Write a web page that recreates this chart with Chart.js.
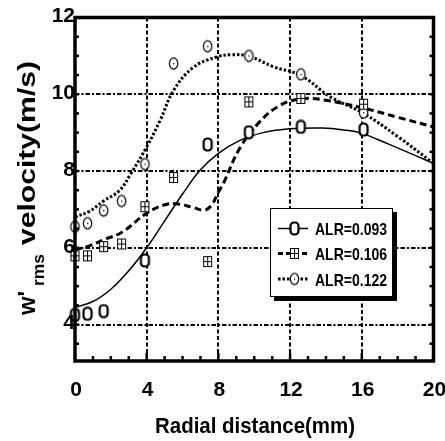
<!DOCTYPE html>
<html>
<head>
<meta charset="utf-8">
<script src="https://cdn.jsdelivr.net/npm/chart.js@4.4.1/dist/chart.umd.min.js"></script>
<style>
  body { margin: 0; background: #fff; }
</style>
</head>
<body>
<canvas id="myChart" width="445" height="441"></canvas>
<script>
// valores
const xPuntos093 = [0, 0.7, 1.6, 3.9, 7.4, 9.7, 12.6, 16.1];
const yPuntos093 = [4.25, 4.28, 4.35, 5.67, 8.69, 9.01, 9.15, 9.08];

const xPuntos106 = [0, 0.7, 1.6, 2.6, 3.9, 5.5, 7.4, 9.7, 12.6, 16.1];
const yPuntos106 = [5.79, 5.79, 6.03, 6.1, 7.07, 7.83, 5.64, 9.8, 9.89, 9.74];

const xPuntos122 = [0, 0.7, 1.6, 2.6, 3.9, 5.5, 7.4, 9.7, 12.6, 16.1];
const yPuntos122 = [6.55, 6.64, 6.97, 7.22, 8.18, 10.8, 11.25, 11.0, 10.52, 9.52];

// curvas de ajuste
const xCurva093 = [0, 1, 2, 3, 4, 5, 6, 7, 8, 9.2, 10.5, 12, 13.8, 15, 16, 17.5, 19, 20];
const yCurva093 = [4.45, 4.6, 4.92, 5.4, 6.0, 6.7, 7.4, 8.03, 8.46, 8.8, 9.0, 9.1, 9.12, 9.07, 8.98, 8.7, 8.4, 8.2];

const xCurva106 = [0, 0.8, 1.6, 2.6, 4, 5, 5.6, 6.6, 7.2, 7.6, 8.0, 8.3, 9.2, 10.3, 11.4, 12.6, 13.9, 16, 18, 20];
const yCurva106 = [5.95, 6.05, 6.21, 6.4, 6.9, 7.12, 7.15, 7.05, 6.98, 7.1, 7.45, 7.7, 8.6, 9.28, 9.7, 9.88, 9.85, 9.65, 9.4, 9.15];

const xCurva122 = [0, 0.8, 1.6, 2.5, 3.1, 4, 4.75, 5.5, 6.6, 7.9, 8.7, 9.7, 11.1, 12.6, 14.25, 16.1, 18, 20];
const yCurva122 = [6.8, 6.95, 7.22, 7.5, 7.92, 8.63, 9.32, 10.1, 10.7, 10.97, 11.03, 10.99, 10.71, 10.49, 9.93, 9.5, 8.9, 8.2];

const series = ['ALR=0.093', 'ALR=0.106', 'ALR=0.122'];
const xTicks = [0, 4, 8, 12, 16, 20];
const yTicks = [4, 6, 8, 10, 12];

const pares = (xs, ys) => xs.map((x, i) => ({ x: x, y: ys[i] }));

// marcadores dibujados a mano
function marcador(tipo) {
  const c = document.createElement('canvas');
  c.width = 13; c.height = 15;
  const g = c.getContext('2d');
  g.fillStyle = '#fff';
  g.strokeStyle = '#000';
  if (tipo == 'o') {
    g.lineWidth = 2.2;
    g.beginPath();
    g.roundRect(2.5, 1.5, 8, 12, 3.5);
    g.fill(); g.stroke();
  }
  if (tipo == 'cruz') {
    g.lineWidth = 1;
    g.fillRect(2, 2.5, 9, 10);
    g.strokeRect(2.5, 2.5, 8, 10);
    g.beginPath();
    g.moveTo(6.5, 2.5); g.lineTo(6.5, 12.5);
    g.moveTo(2.5, 7.5); g.lineTo(10.5, 7.5);
    g.stroke();
  }
  if (tipo == 'punto') {
    g.lineWidth = 1.2;
    g.beginPath();
    g.ellipse(6.5, 7.5, 4.2, 5.6, 0, 0, Math.PI * 2);
    g.fill(); g.stroke();
    g.fillStyle = '#000';
    g.fillRect(6, 7, 1.3, 1.3);
  }
  return c;
}
const marcas = [marcador('o'), marcador('cruz'), marcador('punto')];
const estilos = [
  { ancho: 1.5, dash: [] },
  { ancho: 3, dash: [7, 4] },
  { ancho: 3, dash: [2.5, 2] }
];

function textoAjustado(ctx, txt, x, y, w) {
  const m = ctx.measureText(txt).width;
  ctx.save();
  ctx.translate(x, y);
  ctx.scale(w / m, 1);
  ctx.fillText(txt, 0, 0);
  ctx.restore();
}

const marco = {
  id: 'marco',
  beforeDatasetsDraw(chart) {
    const ctx = chart.ctx, xs = chart.scales.x, ys = chart.scales.y, a = chart.chartArea;
    ctx.save();
    ctx.strokeStyle = '#000';
    ctx.lineWidth = 2;
    ctx.setLineDash([4, 2.5]);
    xTicks.slice(1, -1).forEach(v => {
      const px = Math.round(xs.getPixelForValue(v));
      ctx.beginPath(); ctx.moveTo(px, a.top); ctx.lineTo(px, a.bottom); ctx.stroke();
    });
    ctx.setLineDash([4.5, 2, 2, 2]);
    yTicks.slice(0, -1).forEach(v => {
      const py = Math.round(ys.getPixelForValue(v));
      ctx.beginPath(); ctx.moveTo(a.left, py); ctx.lineTo(a.right, py); ctx.stroke();
    });
    ctx.restore();
  },
  afterDatasetsDraw(chart) {
    const ctx = chart.ctx, xs = chart.scales.x, ys = chart.scales.y, a = chart.chartArea;
    ctx.save();
    ctx.strokeStyle = '#000';
    ctx.fillStyle = '#000';
    ctx.setLineDash([]);
    // ticks menores
    ctx.lineWidth = 2.5;
    for (let v = 1; v < 20; v++) {
      const px = xs.getPixelForValue(v);
      const largo = v % 4 == 0 ? 8 : 5;
      ctx.beginPath(); ctx.moveTo(px, a.bottom); ctx.lineTo(px, a.bottom - largo); ctx.stroke();
    }
    for (let v = 3.5; v < 12; v += 0.5) {
      const py = ys.getPixelForValue(v);
      ctx.beginPath(); ctx.moveTo(a.left, py); ctx.lineTo(a.left + 4, py); ctx.stroke();
      ctx.beginPath(); ctx.moveTo(a.right, py); ctx.lineTo(a.right - 4, py); ctx.stroke();
    }
    // marco grueso
    ctx.lineWidth = 3.5;
    ctx.strokeRect(a.left, a.top, a.right - a.left, a.bottom - a.top);

    // etiquetas
    ctx.font = 'bold 21px "Liberation Sans", Arial, sans-serif';
    ctx.textAlign = 'center';
    ctx.textBaseline = 'middle';
    xTicks.forEach(v => ctx.fillText(String(v), xs.getPixelForValue(v) + 1, 390));
    ctx.textAlign = 'right';
    yTicks.forEach(v => ctx.fillText(String(v), a.left, ys.getPixelForValue(v) - 1));

    // titulo eje x
    ctx.textAlign = 'left';
    ctx.textBaseline = 'alphabetic';
    ctx.font = 'bold 22px "Liberation Sans", Arial, sans-serif';
    textoAjustado(ctx, 'Radial distance(mm)', 155, 433, 200);

    // titulo eje y
    ctx.save();
    ctx.translate(35, 315);
    ctx.rotate(-Math.PI / 2);
    ctx.font = 'bold 24px "Liberation Sans", Arial, sans-serif';
    textoAjustado(ctx, "w'", 0, 0, 24);
    ctx.font = 'bold 17px "Liberation Sans", Arial, sans-serif';
    textoAjustado(ctx, 'rms', 29, 9, 32);
    ctx.font = 'bold 24px "Liberation Sans", Arial, sans-serif';
    textoAjustado(ctx, 'velocity(m/s)', 70, 0, 184);
    ctx.restore();

    // leyenda
    ctx.fillRect(274, 212, 123, 89);
    ctx.fillStyle = '#fff';
    ctx.fillRect(270, 208, 123, 89);
    ctx.lineWidth = 1;
    ctx.strokeRect(270.5, 208.5, 122, 88);
    const filas = [228.5, 253.5, 279];
    series.forEach((nombre, i) => {
      const yy = filas[i];
      ctx.lineWidth = estilos[i].ancho;
      ctx.setLineDash(i == 1 ? [5, 3] : estilos[i].dash);
      ctx.beginPath(); ctx.moveTo(278, yy); ctx.lineTo(308, yy); ctx.stroke();
      ctx.setLineDash([]);
      ctx.drawImage(marcas[i], 294.5 - 6.5, yy - 7.5);
      ctx.fillStyle = '#000';
      ctx.font = 'bold 17px "Liberation Sans", Arial, sans-serif';
      textoAjustado(ctx, nombre, 315, yy + 6.5, 72);
    });
    ctx.restore();
  }
};

const puntos = [pares(xPuntos093, yPuntos093), pares(xPuntos106, yPuntos106), pares(xPuntos122, yPuntos122)];
const curvas = [pares(xCurva093, yCurva093), pares(xCurva106, yCurva106), pares(xCurva122, yCurva122)];

const datasets = [];
// los marcadores van primero para quedar encima
puntos.forEach((p, i) => datasets.push({
  label: series[i],
  data: p,
  showLine: false,
  pointStyle: marcas[i],
  pointRadius: 6,
  clip: false
}));
curvas.forEach((c, i) => datasets.push({
  label: series[i] + ' fit',
  data: c,
  showLine: true,
  pointRadius: 0,
  borderColor: '#000',
  borderWidth: estilos[i].ancho,
  borderDash: estilos[i].dash,
  tension: 0.4,
  fill: false
}));

const ctx = document.getElementById('myChart').getContext('2d');
const myChart = new Chart(ctx, {
  type: 'scatter',
  data: { datasets: datasets },
  options: {
    responsive: false,
    animation: false,
    layout: { padding: { left: 75, top: 17.5, right: 11.5, bottom: 80 } },
    plugins: { legend: { display: false }, tooltip: { enabled: false } },
    scales: {
      x: { type: 'linear', min: 0, max: 20, display: false },
      y: { type: 'linear', min: 3.05, max: 12, display: false }
    }
  },
  plugins: [marco]
});
</script>
</body>
</html>
